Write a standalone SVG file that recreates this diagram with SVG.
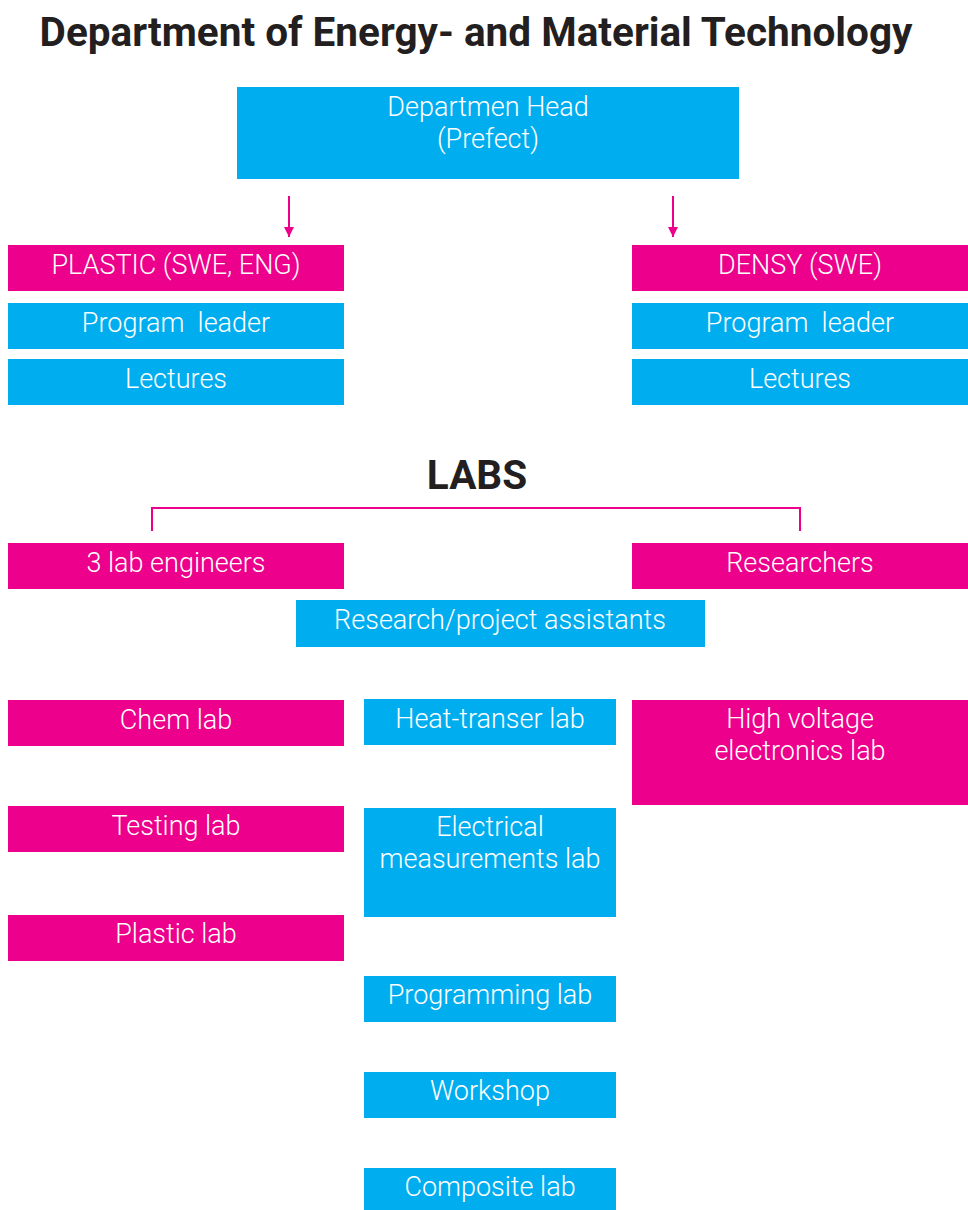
<svg xmlns="http://www.w3.org/2000/svg" width="968" height="1210" viewBox="0 0 968 1210">
  <style>
    .blue { fill: #00AEEF; }
    .pink { fill: #EC008C; }
    .lbl { fill: #FFFFFF; font-family: Roboto, "Liberation Sans", sans-serif; font-weight: 300; font-size: 27px; text-anchor: middle; white-space: pre; }
    .hdr { fill: #231F20; font-family: Roboto, "Liberation Sans", sans-serif; font-weight: 700; font-size: 40.5px; text-anchor: middle; }
    .wire { stroke: #EC008C; stroke-width: 2; fill: none; }
  </style>
  <defs>
    <marker id="arrow" viewBox="0 0 10 10" refX="10" refY="5" markerWidth="10" markerHeight="10" markerUnits="userSpaceOnUse" orient="auto">
      <path d="M0,0 L10,5 L0,10 Z" fill="#EC008C"/>
    </marker>
  </defs>

  <rect width="968" height="1210" fill="#FFFFFF"/>

  <text class="hdr" x="476" y="46">Department of Energy- and Material Technology</text>

  <g id="head">
    <rect class="blue" x="237" y="87" width="502" height="92"/>
    <text class="lbl" x="488" y="116">Departmen Head</text>
    <text class="lbl" x="488" y="148">(Prefect)</text>
  </g>

  <g id="connectors">
    <line class="wire" x1="289" y1="196" x2="289" y2="237" marker-end="url(#arrow)"/>
    <line class="wire" x1="673" y1="196" x2="673" y2="237" marker-end="url(#arrow)"/>
    <path class="wire" d="M152,531 V508 H800 V531"/>
  </g>

  <g id="plastic">
    <rect class="pink" x="8" y="245" width="336" height="46"/>
    <text class="lbl" x="176" y="274">PLASTIC (SWE, ENG)</text>
  </g>
  <g id="plastic-leader">
    <rect class="blue" x="8" y="303" width="336" height="46"/>
    <text class="lbl" x="176" y="332">Program  leader</text>
  </g>
  <g id="plastic-lectures">
    <rect class="blue" x="8" y="359" width="336" height="46"/>
    <text class="lbl" x="176" y="388">Lectures</text>
  </g>

  <g id="densy">
    <rect class="pink" x="632" y="245" width="336" height="46"/>
    <text class="lbl" x="800" y="274">DENSY (SWE)</text>
  </g>
  <g id="densy-leader">
    <rect class="blue" x="632" y="303" width="336" height="46"/>
    <text class="lbl" x="800" y="332">Program  leader</text>
  </g>
  <g id="densy-lectures">
    <rect class="blue" x="632" y="359" width="336" height="46"/>
    <text class="lbl" x="800" y="388">Lectures</text>
  </g>

  <text class="hdr" x="477" y="489">LABS</text>

  <g id="lab-engineers">
    <rect class="pink" x="8" y="543" width="336" height="46"/>
    <text class="lbl" x="176" y="572">3 lab engineers</text>
  </g>
  <g id="researchers">
    <rect class="pink" x="632" y="543" width="336" height="46"/>
    <text class="lbl" x="800" y="572">Researchers</text>
  </g>
  <g id="assistants">
    <rect class="blue" x="296" y="600" width="409" height="47"/>
    <text class="lbl" x="500" y="629">Research/project assistants</text>
  </g>

  <g id="chem-lab">
    <rect class="pink" x="8" y="700" width="336" height="46"/>
    <text class="lbl" x="176" y="729">Chem lab</text>
  </g>
  <g id="testing-lab">
    <rect class="pink" x="8" y="806" width="336" height="46"/>
    <text class="lbl" x="176" y="835">Testing lab</text>
  </g>
  <g id="plastic-lab">
    <rect class="pink" x="8" y="915" width="336" height="46"/>
    <text class="lbl" x="176" y="943">Plastic lab</text>
  </g>

  <g id="heat-lab">
    <rect class="blue" x="364" y="699" width="252" height="46"/>
    <text class="lbl" x="490" y="728">Heat-transer lab</text>
  </g>
  <g id="electrical-lab">
    <rect class="blue" x="364" y="808" width="252" height="109"/>
    <text class="lbl" x="490" y="836">Electrical</text>
    <text class="lbl" x="490" y="868">measurements lab</text>
  </g>
  <g id="programming-lab">
    <rect class="blue" x="364" y="976" width="252" height="46"/>
    <text class="lbl" x="490" y="1004">Programming lab</text>
  </g>
  <g id="workshop">
    <rect class="blue" x="364" y="1072" width="252" height="46"/>
    <text class="lbl" x="490" y="1100">Workshop</text>
  </g>
  <g id="composite-lab">
    <rect class="blue" x="364" y="1168" width="252" height="42"/>
    <text class="lbl" x="490" y="1196">Composite lab</text>
  </g>

  <g id="hv-lab">
    <rect class="pink" x="632" y="700" width="336" height="105"/>
    <text class="lbl" x="800" y="728">High voltage</text>
    <text class="lbl" x="800" y="760">electronics lab</text>
  </g>
</svg>
